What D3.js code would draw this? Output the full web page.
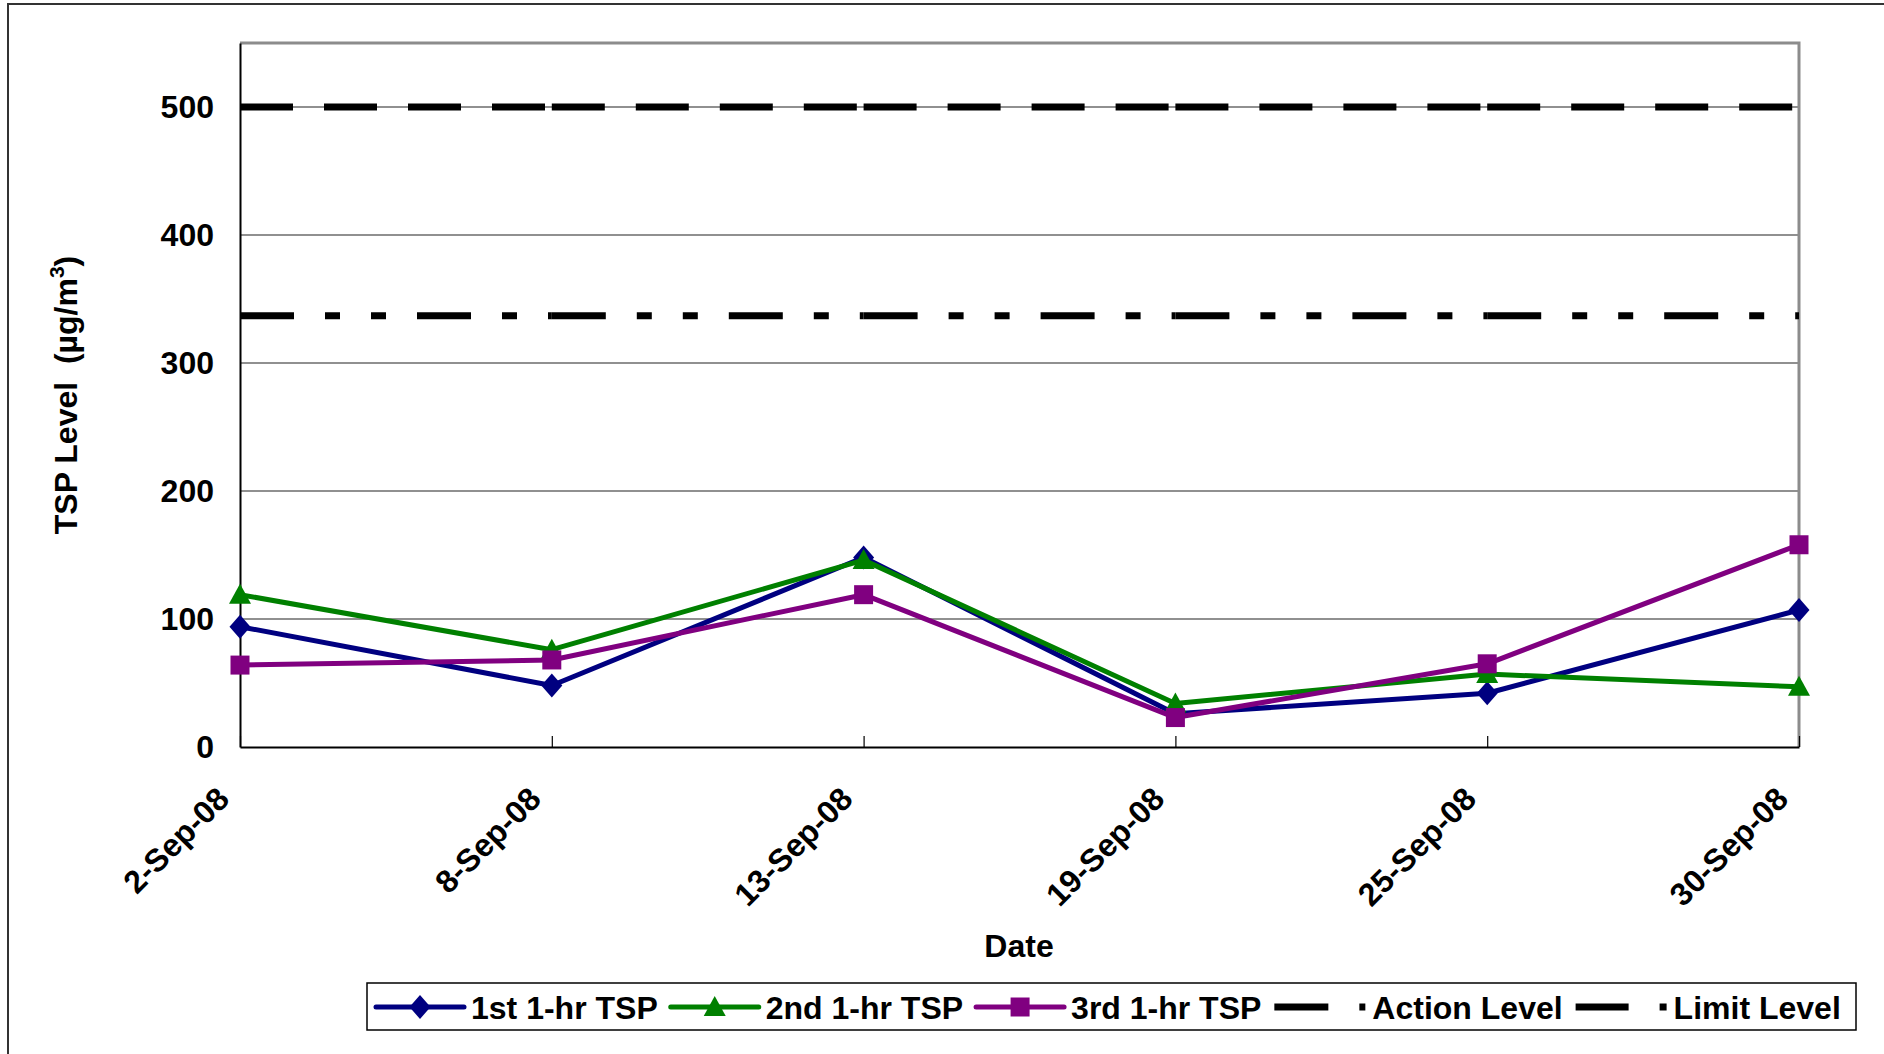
<!DOCTYPE html>
<html>
<head>
<meta charset="utf-8">
<script src="https://cdn.jsdelivr.net/npm/d3@7"></script>
<style>
  body { margin: 0; background: #fff; }
  svg { display: block; font-family: "Liberation Sans", Arial, sans-serif; font-weight: bold; }
</style>
</head>
<body>
<div id="chart"></div>
<script>
// values
const dates = ['2-Sep-08', '8-Sep-08', '13-Sep-08', '19-Sep-08', '25-Sep-08', '30-Sep-08'];
const tsp1 = [94, 48, 148, 26, 42, 107];
const tsp2 = [119, 76, 146, 34, 57, 47];
const tsp3 = [64, 68, 119, 23, 65, 158];
const actionLevel = 337;
const limitLevel = 500;
const yTicks = [0, 100, 200, 300, 400, 500];

const width = 1884, height = 1054;
const plot = { left: 240, right: 1799, top: 43, bottom: 747 };
const fontSize = 32;

const svg = d3.select('#chart').append('svg')
  .attr('width', width)
  .attr('height', height);

// outer chart frame (runs off the right and bottom of the picture)
svg.append('rect')
  .attr('x', 8).attr('y', 4)
  .attr('width', 2400).attr('height', 2400)
  .attr('fill', '#fff')
  .attr('stroke', '#333')
  .attr('stroke-width', 2);

const x = d3.scalePoint().domain(dates).range([plot.left, plot.right]).padding(0);
const y = d3.scaleLinear().domain([0, 550]).range([plot.bottom, plot.top]);

// gridlines
svg.append('g')
  .selectAll('line')
  .data(yTicks.filter((d) => d > 0))
  .join('line')
  .attr('x1', plot.left).attr('x2', plot.right)
  .attr('y1', (d) => y(d)).attr('y2', (d) => y(d))
  .attr('stroke', '#222')
  .attr('stroke-width', 1.2);

// plot area border: grey top / right
svg.append('path')
  .attr('d', `M${plot.left},${plot.top}H${plot.right}V${plot.bottom}`)
  .attr('fill', 'none')
  .attr('stroke', '#8c8c8c')
  .attr('stroke-width', 3);

// y axis
const yAxis = svg.append('g')
  .attr('transform', `translate(${plot.left},0)`)
  .call(d3.axisLeft(y).tickValues(yTicks).tickSize(0).tickPadding(26));
yAxis.select('.domain').attr('stroke', '#000').attr('stroke-width', 2);
yAxis.selectAll('text')
  .attr('font-size', fontSize)
  .attr('font-family', '"Liberation Sans", Arial, sans-serif')
  .attr('font-weight', 'bold')
  .attr('fill', '#000');

// x axis, ticks point up into the plot
const xAxis = svg.append('g')
  .attr('transform', `translate(0,${plot.bottom})`)
  .call(d3.axisBottom(x).tickSize(-11).tickSizeOuter(0).tickFormat(''));
xAxis.select('.domain').attr('stroke', '#000').attr('stroke-width', 2);
xAxis.selectAll('.tick line').attr('stroke', '#000').attr('stroke-width', 1.2);

svg.append('g')
  .selectAll('text')
  .data(dates)
  .join('text')
  .attr('transform', (d) => `translate(${x(d) - 9},${plot.bottom + 54}) rotate(-45)`)
  .attr('text-anchor', 'end')
  .attr('font-size', fontSize)
  .text((d) => d);

// axis titles
svg.append('text')
  .attr('x', 1019).attr('y', 957)
  .attr('text-anchor', 'middle')
  .attr('font-size', fontSize)
  .text('Date');

const yTitle = svg.append('text')
  .attr('transform', 'translate(77,395) rotate(-90)')
  .attr('text-anchor', 'middle')
  .attr('font-size', fontSize)
  .style('white-space', 'pre');
yTitle.append('tspan').text('TSP Level  (µg/m');
yTitle.append('tspan').attr('font-size', 21).attr('dy', -13).text('3');
yTitle.append('tspan').attr('dy', 13).text(')');

// marker shapes
const markers = {
  diamond: 'M0,-12L10.5,0L0,12L-10.5,0Z',
  triangle: 'M0,-11L11,9L-11,9Z',
  square: 'M-9.5,-9.5h19v19h-19Z',
};

const series = [
  { name: '1st 1-hr TSP', values: tsp1, color: '#000080', marker: 'diamond' },
  { name: '2nd 1-hr TSP', values: tsp2, color: '#008000', marker: 'triangle' },
  { name: '3rd 1-hr TSP', values: tsp3, color: '#800080', marker: 'square' },
];

const levels = [
  { name: 'Action Level', value: actionLevel, dash: '54,31,15,31,15,31' },
  { name: 'Limit Level', value: limitLevel, dash: '53,31' },
];

const line = d3.line()
  .x((d, i) => x(dates[i]))
  .y((d) => y(d));

series.forEach((s) => {
  const g = svg.append('g');
  g.append('path')
    .datum(s.values)
    .attr('d', line)
    .attr('fill', 'none')
    .attr('stroke', s.color)
    .attr('stroke-width', 5)
    .attr('stroke-linejoin', 'round');
  g.selectAll('path.mk')
    .data(s.values)
    .join('path')
    .attr('class', 'mk')
    .attr('d', markers[s.marker])
    .attr('transform', (d, i) => `translate(${x(dates[i])},${y(d)})`)
    .attr('fill', s.color);
});

// level lines: Excel restarts the dash pattern at every category
levels.forEach((l) => {
  svg.append('g')
    .selectAll('line')
    .data(dates.slice(0, -1))
    .join('line')
    .attr('x1', (d) => x(d))
    .attr('x2', (d, i) => x(dates[i + 1]))
    .attr('y1', y(l.value)).attr('y2', y(l.value))
    .attr('stroke', '#000')
    .attr('stroke-width', 7)
    .attr('stroke-dasharray', l.dash);
});

// legend
const legend = svg.append('g');
legend.append('rect')
  .attr('x', 367).attr('y', 983)
  .attr('width', 1489).attr('height', 47)
  .attr('fill', '#fff')
  .attr('stroke', '#000')
  .attr('stroke-width', 1.5);

const ly = 1007;
let lx = 376;
const items = series.map((s) => ({ ...s, kind: 'series' }))
  .concat(levels.map((l) => ({ ...l, kind: 'level' })));

items.forEach((it) => {
  const sampleLen = it.kind === 'series' ? 88 : 91;
  legend.append('line')
    .attr('x1', lx).attr('x2', lx + sampleLen)
    .attr('y1', ly).attr('y2', ly)
    .attr('stroke', it.kind === 'series' ? it.color : '#000')
    .attr('stroke-width', it.kind === 'series' ? 5 : 7)
    .attr('stroke-linecap', it.kind === 'series' ? 'round' : 'butt')
    .attr('stroke-dasharray', it.kind === 'series' ? null : it.dash);
  if (it.kind === 'series') {
    legend.append('path')
      .attr('d', markers[it.marker])
      .attr('transform', `translate(${lx + sampleLen / 2},${ly})`)
      .attr('fill', it.color);
  }
  const t = legend.append('text')
    .attr('x', lx + sampleLen + 7)
    .attr('y', ly)
    .attr('dy', '0.36em')
    .attr('font-size', fontSize)
    .text(it.name);
  lx += sampleLen + 7 + t.node().getComputedTextLength() + 13;
});
</script>
</body>
</html>
